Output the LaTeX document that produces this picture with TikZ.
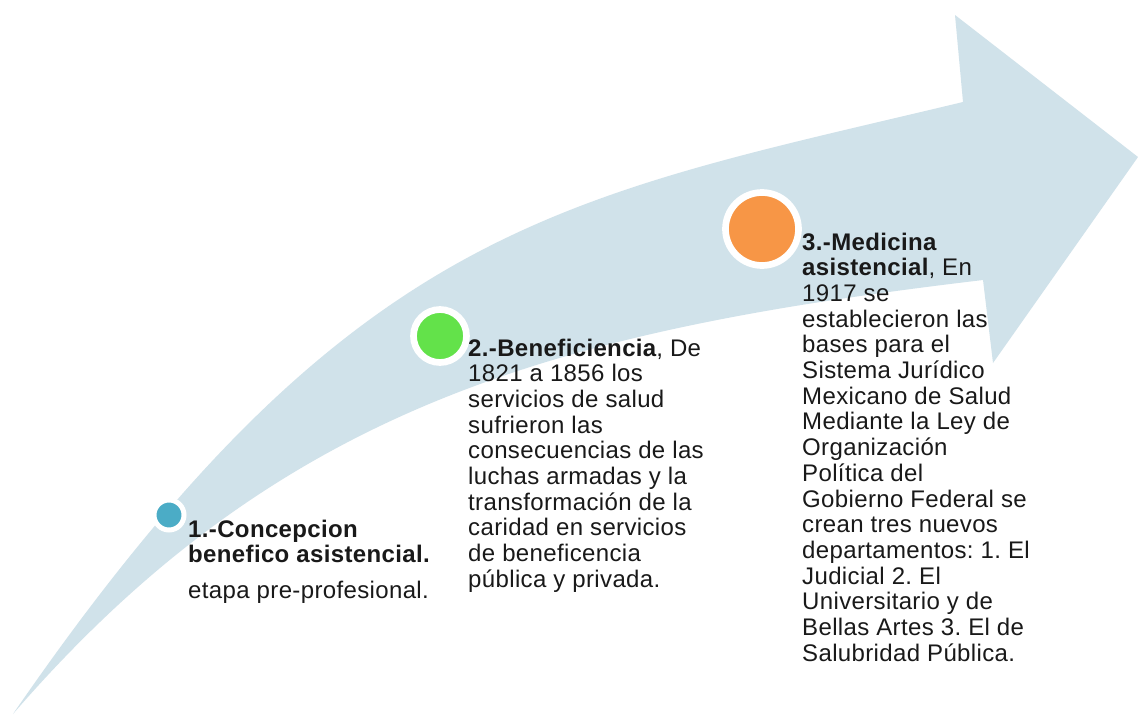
\documentclass[tikz,border=0pt]{standalone}
\usepackage{fontspec}
\setmainfont{Liberation Sans}[LetterSpace=1.5]
\definecolor{bandblue}{RGB}{208,226,234}
\definecolor{dotteal}{RGB}{75,172,198}
\definecolor{dotgreen}{RGB}{99,226,74}
\definecolor{dotorange}{RGB}{247,150,70}
\definecolor{txt}{RGB}{25,25,25}
\tikzset{
  dot/.style={circle, draw=white, inner sep=0pt},
  label/.style={anchor=base west, inner sep=0pt, text=txt, font=\fontsize{24}{25.7}\selectfont}
}
\begin{document}
\frenchspacing
\begin{tikzpicture}[x=1pt,y=-1pt]
\useasboundingbox (0,0) rectangle (1138,715);
\fill[white] (0,0) rectangle (1138,715);
% big curved arrow
\fill[bandblue] (13,714) .. controls (353,220) and (563,198) .. (963,102)
  -- (955,15) -- (1138,157) -- (993,363) -- (983,280)
  .. controls (563,330) and (283,402) .. (13,714) -- cycle;
% dots
\node[dot, fill=dotteal, line width=5pt, minimum size=30pt] (c1) at (169,515) {};
\node[dot, fill=dotgreen, line width=6.7pt, minimum size=53pt] (c2) at (440,336) {};
\node[dot, fill=dotorange, line width=6.7pt, minimum size=73pt] (c3) at (762,229) {};
% texts
\node[label] (t1) at (188,537) {\begin{tabular}[t]{@{}l@{}}\textbf{1.-Concepcion}\\ \textbf{benefico asistencial.}\\[10pt] etapa pre-profesional.\end{tabular}};
\node[label] (t2) at (468,356) {\begin{tabular}[t]{@{}l@{}}\textbf{2.-Beneficiencia}, De\\ 1821 a 1856 los\\ servicios de salud\\ sufrieron las\\ consecuencias de las\\ luchas armadas y la\\ transformación de la\\ caridad en servicios\\ de beneficencia\\ pública y privada.\end{tabular}};
\node[label] (t3) at (802,250) {\begin{tabular}[t]{@{}l@{}}\textbf{3.-Medicina}\\ \textbf{asistencial}, En\\ 1917 se\\ establecieron las\\ bases para el\\ Sistema Jurídico\\ Mexicano de Salud\\ Mediante la Ley de\\ Organización\\ Política del\\ Gobierno Federal se\\ crean tres nuevos\\ departamentos: 1. El\\ Judicial 2. El\\ Universitario y de\\ Bellas Artes 3. El de\\ Salubridad Pública.\end{tabular}};
\end{tikzpicture}
\end{document}
